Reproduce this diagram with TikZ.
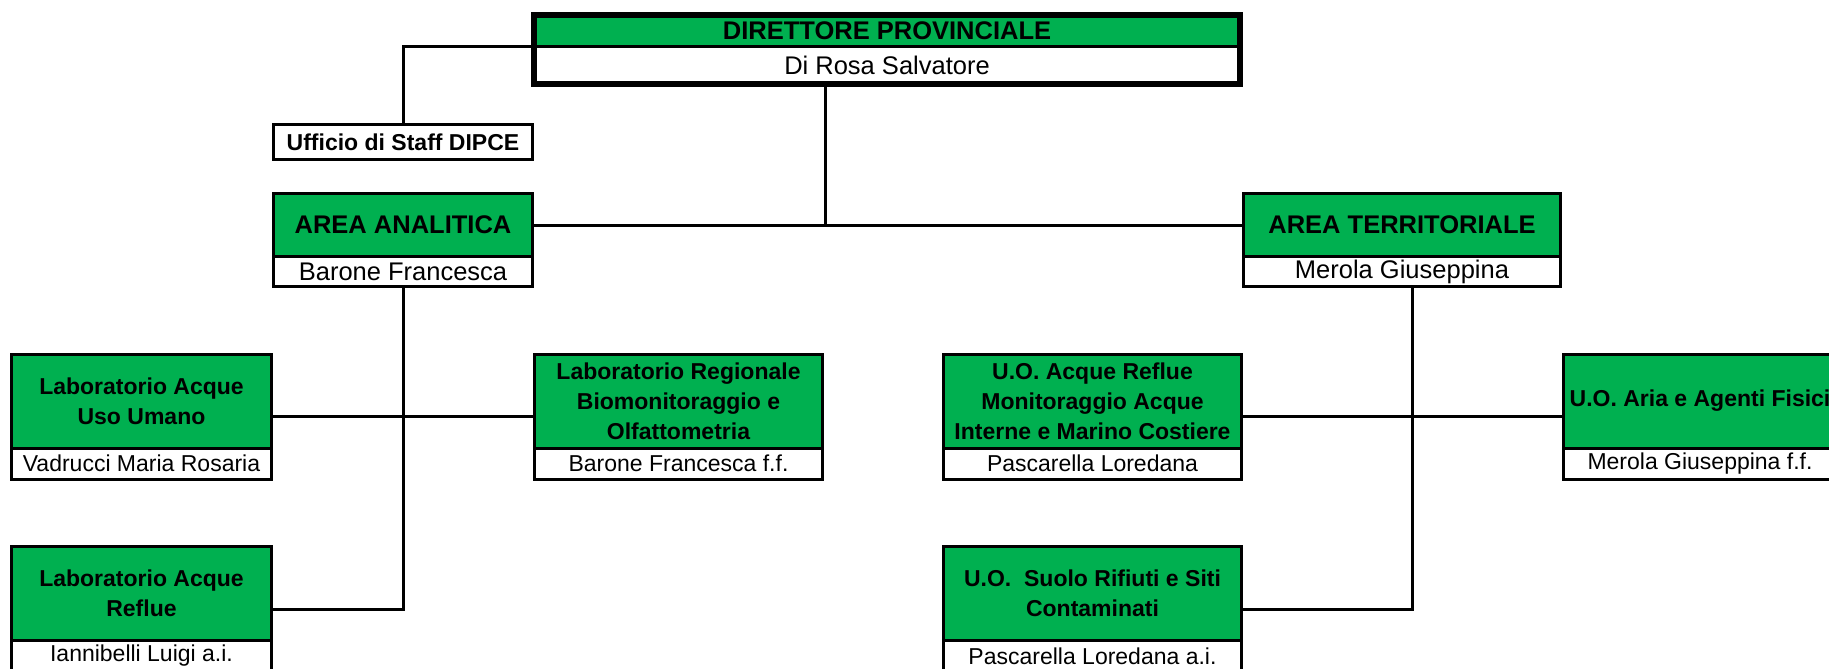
\documentclass[tikz,border=0pt]{standalone}
\usepackage{fontspec}
\setmainfont{Liberation Sans}
\usetikzlibrary{positioning,fit}
\definecolor{boxgreen}{RGB}{0,176,80}
\tikzset{
    headbox/.style={draw, line width=3pt, fill=boxgreen, outer sep=0pt, inner sep=0pt, align=center, font=\bfseries\fontsize{23}{30}\selectfont, minimum height=94pt},
    namebox/.style={draw, line width=3pt, fill=white, outer sep=0pt, inner sep=0pt, font=\fontsize{23}{28}\selectfont, minimum height=31pt},
    bighead/.style={font=\bfseries\fontsize{25.5}{30}\selectfont},
    bigname/.style={font=\fontsize{25.5}{30}\selectfont},
    unit/.style={inner sep=0pt, outer sep=0pt},
    link/.style={line width=3pt}
}

\begin{document}
\begin{tikzpicture}[x=1pt, y=-1pt]
\useasboundingbox (0,0) rectangle (1829,669);

% direttore e staff
\node[headbox, bighead, minimum width=706pt, minimum height=32pt] (dirhead) at (887,31) {DIRETTORE PROVINCIALE};
\node[namebox, bigname, minimum width=706pt, minimum height=37pt, below=0pt of dirhead] (dirname) {Di Rosa Salvatore};
\node[headbox, fill=white, minimum width=259pt, minimum height=35pt] (staff) at (403,142) {Ufficio di Staff DIPCE};

% aree
\node[headbox, bighead, minimum width=259pt, minimum height=63pt] (anahead) at (403,225) {AREA ANALITICA};
\node[namebox, bigname, minimum width=259pt, minimum height=30pt, below=0pt of anahead] (ananame) {Barone Francesca};
\node[headbox, bighead, minimum width=317pt, minimum height=63pt] (terhead) at (1402,225) {AREA TERRITORIALE};
\node[namebox, bigname, minimum width=317pt, minimum height=30pt, below=0pt of terhead] (tername) {Merola Giuseppina};

% laboratori
\node[headbox, minimum width=260pt] (uuhead) at (141.5,401) {Laboratorio Acque\\Uso Umano};
\node[namebox, minimum width=260pt, below=0pt of uuhead] (uuname) {Vadrucci Maria Rosaria};
\node[unit, fit=(uuhead)(uuname)] (uu) {};
\node[headbox, minimum width=288pt] (reghead) at (678.5,401) {Laboratorio Regionale\\Biomonitoraggio e\\Olfattometria};
\node[namebox, minimum width=288pt, below=0pt of reghead] (regname) {Barone Francesca f.f.};
\node[unit, fit=(reghead)(regname)] (reg) {};
\node[headbox, minimum width=260pt] (lrhead) at (141.5,593.5) {Laboratorio Acque\\Reflue};
\node[namebox, minimum width=260pt, below=0pt of lrhead] (lrname) {Iannibelli Luigi a.i.};
\node[unit, fit=(lrhead)(lrname)] (lr) {};

% unita operative
\node[headbox, minimum width=298pt] (arhead) at (1092.5,401) {U.O. Acque Reflue\\Monitoraggio Acque\\Interne e Marino Costiere};
\node[namebox, minimum width=298pt, below=0pt of arhead] (arname) {Pascarella Loredana};
\node[unit, fit=(arhead)(arname)] (ar) {};
\node[headbox, minimum width=273pt] (afhead) at (1700,401) {U.O. Aria e Agenti Fisici};
\node[namebox, minimum width=273pt, below=0pt of afhead] (afname) {Merola Giuseppina f.f.};
\node[unit, fit=(afhead)(afname)] (af) {};
\node[headbox, minimum width=298pt] (sshead) at (1092.5,593.5) {U.O.\ \ Suolo Rifiuti e Siti\\Contaminati};
\node[namebox, minimum width=298pt, below=0pt of sshead] (ssname) {Pascarella Loredana a.i.};
\node[unit, fit=(sshead)(ssname)] (ss) {};

% collegamenti
\draw[link] (dirhead.south west) -| (staff.north);
\draw[link] ([xshift=-62pt]dirname.south) coordinate (drop) -- (drop |- anahead.east);
\draw[link] (anahead.east) -- (terhead.west);
\draw[link] (ananame.south) |- (lr.east);
\draw[link] (uu.east) -- (reg.west);
\draw[link] ([xshift=10pt]tername.south) |- (ss.east);
\draw[link] (ar.east) -- (af.west);

\node[unit, fit=(dirhead)(dirname), draw, line width=6pt] (dir) {};
\end{tikzpicture}
\end{document}
